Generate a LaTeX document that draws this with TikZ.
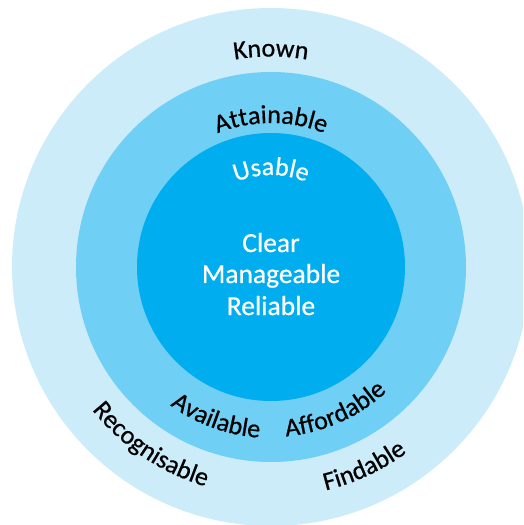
\documentclass[tikz,border=0pt]{standalone}
\usepackage{fontspec}
\setmainfont{Carlito}[FakeBold=0.6]
\usetikzlibrary{decorations.text}
\definecolor{ringout}{RGB}{204,236,250}
\definecolor{ringmid}{RGB}{111,207,244}
\definecolor{ringin}{RGB}{0,174,239}
\newcommand{\ringfont}{\fontsize{26}{30}\selectfont}
\newcommand{\corefont}{\fontsize{27.5}{31.5}\selectfont}
\tikzset{
  arctext/.style 2 args={decorate, decoration={text along path, text={|\ringfont|#1}, text align=center, text color=#2}},
  coretext/.style={text=white, font=\corefont, anchor=base, inner sep=0pt},
}
\begin{document}
\begin{tikzpicture}[x=1pt,y=1pt]
\useasboundingbox (-271,-258) rectangle (252,267);
\clip (-271,-258) rectangle (252,267);
\fill[ringout] (0,0) circle[radius=259pt];
\fill[ringmid] (0,0) circle[radius=195pt];
\fill[ringin] (0,0) circle[radius=134pt];
% top texts (clockwise arcs)
\path[arctext={Known}{black}] (130:210.5pt) arc[start angle=130, end angle=50, radius=210.5pt];
\path[arctext={Attainable}{black}] (140:144pt) arc[start angle=140, end angle=40, radius=144pt];
\path[arctext={Usable}{white}] (150:92pt) arc[start angle=150, end angle=30, radius=92pt];
% bottom texts (counterclockwise arcs)
\path[arctext={Recognisable}{black}] (201:229pt) arc[start angle=201, end angle=271, radius=229pt];
\path[arctext={Findable}{black}] (265:230pt) arc[start angle=265, end angle=325, radius=230pt];
\path[arctext={Available}{black}] (216:171pt) arc[start angle=216, end angle=284, radius=171pt];
\path[arctext={Affordable}{black}] (261:170pt) arc[start angle=261, end angle=327, radius=170pt];
% core
\node[coretext] (clear) at (0,15) {Clear};
\node[coretext] (manage) at (0,-16) {Manageable};
\node[coretext] (reliable) at (0,-48) {Reliable};
\end{tikzpicture}
\end{document}
